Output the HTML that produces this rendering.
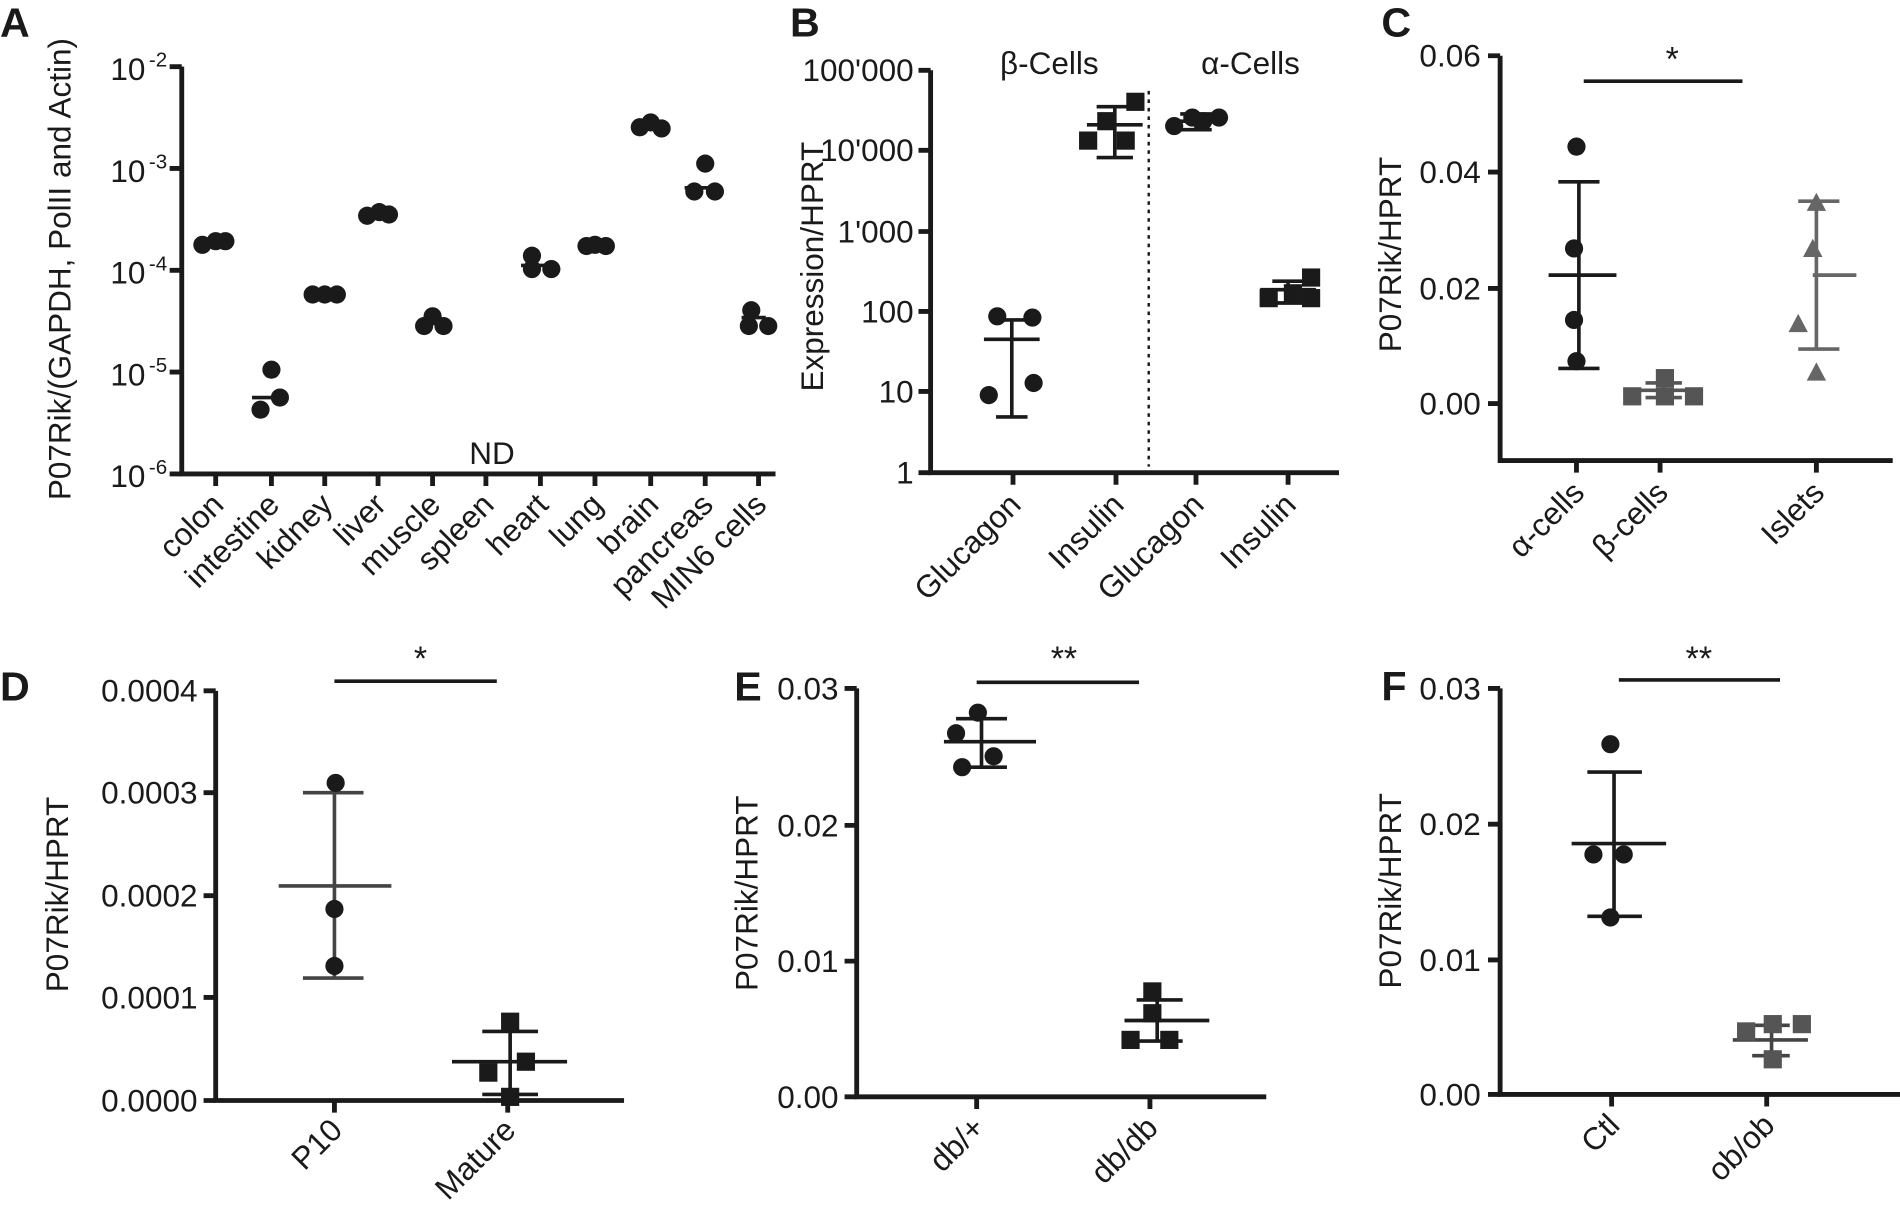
<!DOCTYPE html>
<html><head><meta charset="utf-8"><style>
html,body{margin:0;padding:0;background:#fff;}
svg{display:block;}
text{font-family:"Liberation Sans",sans-serif;fill:#1a1a1a;}
</style></head><body>
<svg width="1900" height="1212" viewBox="0 0 1568 1000" preserveAspectRatio="none" xmlns="http://www.w3.org/2000/svg">
<defs>
<g id="c"><circle r="7.5" fill="#1a1a1a"/></g>
<g id="s"><rect x="-7.5" y="-7.5" width="15" height="15" fill="#1a1a1a"/></g>
<g id="sg"><rect x="-7.5" y="-7.5" width="15" height="15" fill="#555"/></g>
<g id="t"><polygon points="0,-9 8,6 -8,6" fill="#666"/></g>
</defs>
<g font-weight="bold" font-size="34">
<text x="0" y="30">A</text><text x="652" y="30">B</text><text x="1140" y="30">C</text>
<text x="0" y="578">D</text><text x="606" y="578">E</text><text x="1140" y="578">F</text>
</g>
<g stroke="#1a1a1a" stroke-width="4" fill="none">
<path d="M150,55 V391 H640"/>
<path d="M140,55H150M140,139H150M140,223H150M140,307H150M140,391H150"/>
<path d="M178,391v10M224,391v10M268,391v10M312,391v10M357,391v10M401,391v10M446,391v10M491,391v10M537,391v10M582,391v10M626,391v10"/>
<path d="M768,58 V390 H1105"/>
<path d="M758,58H768M758,124H768M758,191H768M758,257H768M758,323H768M758,390H768"/>
<path d="M836,390v10M921,390v10M987,390v10M1063,390v10"/>
<path d="M1238,46 V380 H1562"/>
<path d="M1228,46H1238M1228,142H1238M1228,238H1238M1228,333H1238"/>
<path d="M1301,380v10M1370,380v10M1499,380v10"/>
<path d="M1307,67H1438" stroke-width="3"/>
<path d="M178,570 V908 H515"/>
<path d="M168,570H178M168,654H178M168,739H178M168,823H178M168,908H178"/>
<path d="M276,908v10M419,908v10"/>
<path d="M276,562H410" stroke-width="3"/>
<path d="M707,568 V905 H1045"/>
<path d="M697,568H707M697,681H707M697,793H707M697,905H707"/>
<path d="M806,905v10M949,905v10"/>
<path d="M806,563H940" stroke-width="3"/>
<path d="M1238,568 V903 H1568"/>
<path d="M1228,568H1238M1228,680H1238M1228,792H1238M1228,903H1238"/>
<path d="M1330,903v10M1458,903v10"/>
<path d="M1336,561H1469" stroke-width="3"/>
</g>
<path d="M948,75V385" stroke="#1a1a1a" stroke-width="2" stroke-dasharray="3,4"/>
<g font-size="26" text-anchor="end">
<text x="120" y="66">10</text><text x="138" y="55" font-size="17">-2</text>
<text x="120" y="150">10</text><text x="138" y="139" font-size="17">-3</text>
<text x="120" y="234">10</text><text x="138" y="223" font-size="17">-4</text>
<text x="120" y="318">10</text><text x="138" y="307" font-size="17">-5</text>
<text x="120" y="402">10</text><text x="138" y="391" font-size="17">-6</text>
<text x="754" y="67">100'000</text><text x="754" y="133">10'000</text><text x="754" y="200">1'000</text>
<text x="754" y="266">100</text><text x="754" y="332">10</text><text x="754" y="399">1</text>
<text x="1222" y="55">0.06</text><text x="1222" y="151">0.04</text><text x="1222" y="247">0.02</text><text x="1222" y="342">0.00</text>
<text x="163" y="579">0.0004</text><text x="163" y="663">0.0003</text><text x="163" y="748">0.0002</text><text x="163" y="832">0.0001</text><text x="163" y="917">0.0000</text>
<text x="692" y="577">0.03</text><text x="692" y="690">0.02</text><text x="692" y="802">0.01</text><text x="692" y="914">0.00</text>
<text x="1222" y="577">0.03</text><text x="1222" y="689">0.02</text><text x="1222" y="801">0.01</text><text x="1222" y="912">0.00</text>
</g>
<g font-size="26" text-anchor="end">
<text transform="translate(186,418) rotate(-45)">colon</text>
<text transform="translate(232,418) rotate(-45)">intestine</text>
<text transform="translate(276,418) rotate(-45)">kidney</text>
<text transform="translate(320,418) rotate(-45)">liver</text>
<text transform="translate(365,418) rotate(-45)">muscle</text>
<text transform="translate(409,418) rotate(-45)">spleen</text>
<text transform="translate(454,418) rotate(-45)">heart</text>
<text transform="translate(499,418) rotate(-45)">lung</text>
<text transform="translate(545,418) rotate(-45)">brain</text>
<text transform="translate(590,418) rotate(-45)">pancreas</text>
<text transform="translate(634,418) rotate(-45)">MIN6 cells</text>
<text transform="translate(844,418) rotate(-45)">Glucagon</text>
<text transform="translate(929,418) rotate(-45)">Insulin</text>
<text transform="translate(995,418) rotate(-45)">Glucagon</text>
<text transform="translate(1071,418) rotate(-45)">Insulin</text>
<text transform="translate(1309,408) rotate(-45)">α-cells</text>
<text transform="translate(1378,408) rotate(-45)">β-cells</text>
<text transform="translate(1507,408) rotate(-45)">Islets</text>
<text transform="translate(284,934) rotate(-45)">P10</text>
<text transform="translate(427,934) rotate(-45)">Mature</text>
<text transform="translate(814,932) rotate(-45)">db/+</text>
<text transform="translate(957,932) rotate(-45)">db/db</text>
<text transform="translate(1338,930) rotate(-45)">Ctl</text>
<text transform="translate(1466,930) rotate(-45)">ob/ob</text>
</g>
<g font-size="26" text-anchor="middle">
<text transform="translate(58,222) rotate(-90)">P07Rik/(GAPDH, PolII and Actin)</text>
<text transform="translate(679,220) rotate(-90)">Expression/HPRT</text>
<text transform="translate(1156,210) rotate(-90)">P07Rik/HPRT</text>
<text transform="translate(56,738) rotate(-90)">P07Rik/HPRT</text>
<text transform="translate(625,737) rotate(-90)">P07Rik/HPRT</text>
<text transform="translate(1156,735) rotate(-90)">P07Rik/HPRT</text>
<text x="406" y="383">ND</text>
<text x="866" y="61">β-Cells</text>
<text x="1032" y="61">α-Cells</text>
<text x="1380" y="58" font-size="28">*</text>
<text x="347" y="553" font-size="28">*</text>
<text x="878" y="553" font-size="28">**</text>
<text x="1402" y="553" font-size="28">**</text>
</g>
<g>
<use href="#c" x="167" y="202"/><use href="#c" x="178" y="199"/><use href="#c" x="186" y="199"/>
<use href="#c" x="224" y="305"/><use href="#c" x="215" y="338"/><use href="#c" x="231" y="328"/>
<use href="#c" x="258" y="243"/><use href="#c" x="268" y="243"/><use href="#c" x="278" y="243"/>
<use href="#c" x="303" y="178"/><use href="#c" x="313" y="175"/><use href="#c" x="321" y="177"/>
<use href="#c" x="357" y="261"/><use href="#c" x="350" y="269"/><use href="#c" x="366" y="269"/>
<use href="#c" x="439" y="211"/><use href="#c" x="439" y="222"/><use href="#c" x="455" y="222"/>
<use href="#c" x="484" y="203"/><use href="#c" x="491" y="202"/><use href="#c" x="500" y="203"/>
<use href="#c" x="528" y="105"/><use href="#c" x="537" y="101"/><use href="#c" x="546" y="106"/>
<use href="#c" x="582" y="135"/><use href="#c" x="573" y="158"/><use href="#c" x="590" y="158"/>
<use href="#c" x="620" y="256"/><use href="#c" x="618" y="269"/><use href="#c" x="634" y="269"/>
</g>
<g stroke="#1a1a1a" stroke-width="3" fill="none">
<path d="M208,328H228M430,219H450M565,155H585M612,262H632"/>
<path d="M812,280H858M822,264H848M822,344H848M835,264V344"/>
<path d="M897,103H943M905,88H935M905,130H935M920,88V130"/>
<path d="M964,100H1010M974,94H1000M974,107H1000M987,94V107"/>
<path d="M1040,239H1086M1050,232H1076M1050,250H1076M1063,232V250"/>
<path d="M1278,227H1334M1286,150H1320M1286,304H1320M1303,150V304"/>
<path d="M1496,227H1532M1484,166H1518M1484,288H1518M1499,166V288" stroke="#666"/>
<path d="M1350,322H1396M1358,316H1388M1358,328H1388M1373,316V328" stroke="#555"/>
<path d="M230,731H323M250,654H300M250,807H300M276,654V807" stroke="#444"/>
<path d="M373,876H468M398,851H444M398,903H444M421,851V903"/>
<path d="M779,612H855M789,593H831M789,633H831M810,593V633"/>
<path d="M928,842H998M938,825H976M938,859H976M955,825V859"/>
<path d="M1297,696H1375M1310,637H1355M1310,756H1355M1332,637V756"/>
<path d="M1430,858H1492M1446,846H1477M1446,871H1477M1462,846V871" stroke="#444"/>
</g>
<g>
<use href="#c" x="823" y="261"/><use href="#c" x="852" y="262"/><use href="#c" x="853" y="316"/><use href="#c" x="816" y="326"/>
<use href="#s" x="937" y="84"/><use href="#s" x="913" y="100"/><use href="#s" x="929" y="116"/><use href="#s" x="898" y="116"/>
<use href="#c" x="969" y="104"/><use href="#c" x="984" y="97"/><use href="#c" x="993" y="100"/><use href="#c" x="1006" y="97"/>
<use href="#s" x="1082" y="229"/><use href="#s" x="1067" y="242"/><use href="#s" x="1047" y="246"/><use href="#s" x="1082" y="246"/>
<use href="#c" x="1301" y="121"/><use href="#c" x="1299" y="205"/><use href="#c" x="1299" y="264"/><use href="#c" x="1301" y="298"/>
<use href="#sg" x="1374" y="312"/><use href="#sg" x="1347" y="327"/><use href="#sg" x="1374" y="327"/><use href="#sg" x="1398" y="327"/>
<use href="#t" x="1499" y="168"/><use href="#t" x="1496" y="206"/><use href="#t" x="1484" y="268"/><use href="#t" x="1499" y="308"/>
<use href="#c" x="277" y="646"/><use href="#c" x="276" y="750"/><use href="#c" x="276" y="797"/>
<use href="#s" x="421" y="843"/><use href="#s" x="434" y="876"/><use href="#s" x="403" y="885"/><use href="#s" x="421" y="905"/>
<use href="#c" x="807" y="588"/><use href="#c" x="789" y="605"/><use href="#c" x="820" y="624"/><use href="#c" x="794" y="633"/>
<use href="#s" x="951" y="818"/><use href="#s" x="951" y="836"/><use href="#s" x="933" y="858"/><use href="#s" x="965" y="858"/>
<use href="#c" x="1329" y="614"/><use href="#c" x="1340" y="705"/><use href="#c" x="1315" y="705"/><use href="#c" x="1329" y="757"/>
<use href="#sg" x="1463" y="845"/><use href="#sg" x="1441" y="851"/><use href="#sg" x="1487" y="845"/><use href="#sg" x="1463" y="874"/>
</g>
</svg>
</body></html>
